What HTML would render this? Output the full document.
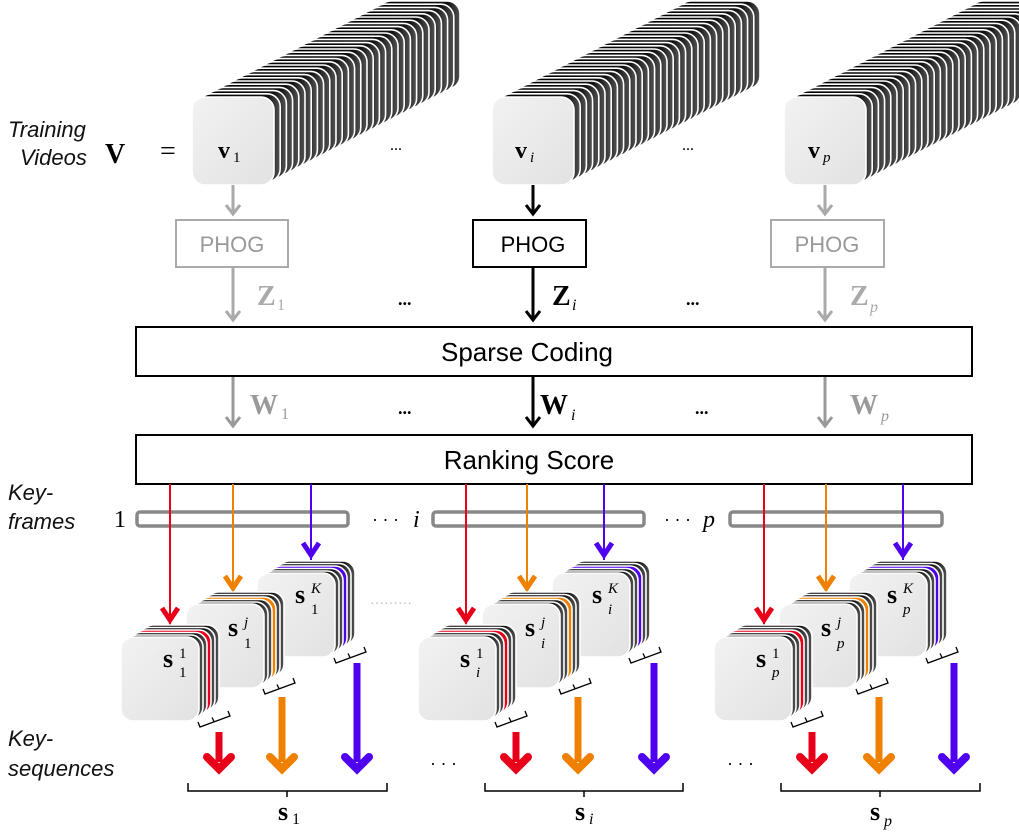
<!DOCTYPE html>
<html><head><meta charset="utf-8"><style>
body{margin:0;background:#fff}
svg{display:block}
.sans{font-family:"Liberation Sans",sans-serif}
.ser{font-family:"Liberation Serif",serif}
</style></head><body>
<svg width="1019" height="832" viewBox="0 0 1019 832" xmlns="http://www.w3.org/2000/svg">
<defs>
<linearGradient id="dk" x1="0" x2="1" y1="0" y2="0"><stop offset="0" stop-color="#000"/><stop offset="0.85" stop-color="#111"/><stop offset="1" stop-color="#555"/></linearGradient>
<linearGradient id="fr" x1="0" x2="1" y1="0" y2="1"><stop offset="0" stop-color="#f2f2f2"/><stop offset="1" stop-color="#e2e2e2"/></linearGradient>
<rect id="bs" width="82" height="88" rx="13" stroke="#fff" stroke-width="1.6"/>
<rect id="ss" width="78" height="84" rx="12" stroke="#fff" stroke-width="1.6"/>
<g id="big">
<use href="#bs" x="186" y="-96" fill="url(#dk)"/><use href="#bs" x="179.8" y="-92.8" fill="url(#dk)"/><use href="#bs" x="173.6" y="-89.6" fill="url(#dk)"/><use href="#bs" x="167.4" y="-86.4" fill="url(#dk)"/><use href="#bs" x="161.2" y="-83.2" fill="url(#dk)"/><use href="#bs" x="155" y="-80" fill="url(#dk)"/><use href="#bs" x="148.8" y="-76.8" fill="url(#dk)"/><use href="#bs" x="142.6" y="-73.6" fill="url(#dk)"/><use href="#bs" x="136.4" y="-70.4" fill="url(#dk)"/><use href="#bs" x="130.2" y="-67.2" fill="url(#dk)"/><use href="#bs" x="124" y="-64" fill="url(#dk)"/><use href="#bs" x="117.8" y="-60.8" fill="url(#dk)"/><use href="#bs" x="111.6" y="-57.6" fill="url(#dk)"/><use href="#bs" x="105.4" y="-54.4" fill="url(#dk)"/><use href="#bs" x="99.2" y="-51.2" fill="url(#dk)"/><use href="#bs" x="93" y="-48" fill="url(#dk)"/><use href="#bs" x="86.8" y="-44.8" fill="url(#dk)"/><use href="#bs" x="80.6" y="-41.6" fill="url(#dk)"/><use href="#bs" x="74.4" y="-38.4" fill="url(#dk)"/><use href="#bs" x="68.2" y="-35.2" fill="url(#dk)"/><use href="#bs" x="62" y="-32" fill="url(#dk)"/><use href="#bs" x="55.8" y="-28.8" fill="url(#dk)"/><use href="#bs" x="49.6" y="-25.6" fill="url(#dk)"/><use href="#bs" x="43.4" y="-22.4" fill="url(#dk)"/><use href="#bs" x="37.2" y="-19.2" fill="url(#dk)"/><use href="#bs" x="31" y="-16" fill="url(#dk)"/><use href="#bs" x="24.8" y="-12.8" fill="url(#dk)"/><use href="#bs" x="18.6" y="-9.6" fill="url(#dk)"/><use href="#bs" x="12.4" y="-6.4" fill="url(#dk)"/><use href="#bs" x="6.2" y="-3.2" fill="url(#dk)"/>
<use href="#bs" x="0" y="0" fill="url(#fr)"/>
</g>
<path id="brk" d="M77,85 l2,5 l30,-11 l-2,-5 M93,84.5 l-2,-4" fill="none" stroke="#000" stroke-width="1.3"/>
<g id="smR"><use href="#ss" x="20" y="-12" fill="url(#dk)"/><use href="#ss" x="16" y="-9.5" fill="url(#dk)"/><use href="#ss" x="12" y="-7" fill="#e8001a"/><use href="#ss" x="8" y="-4.5" fill="url(#dk)"/><use href="#ss" x="4" y="-2" fill="url(#dk)"/><use href="#ss" x="0" y="0" fill="url(#fr)"/><use href="#brk"/></g>
<g id="smO"><use href="#ss" x="20" y="-12" fill="url(#dk)"/><use href="#ss" x="16" y="-9.5" fill="url(#dk)"/><use href="#ss" x="12" y="-7" fill="#f08000"/><use href="#ss" x="8" y="-4.5" fill="url(#dk)"/><use href="#ss" x="4" y="-2" fill="url(#dk)"/><use href="#ss" x="0" y="0" fill="url(#fr)"/><use href="#brk"/></g>
<g id="smP"><use href="#ss" x="20" y="-12" fill="url(#dk)"/><use href="#ss" x="16" y="-9.5" fill="url(#dk)"/><use href="#ss" x="12" y="-7" fill="#5000f0"/><use href="#ss" x="8" y="-4.5" fill="url(#dk)"/><use href="#ss" x="4" y="-2" fill="url(#dk)"/><use href="#ss" x="0" y="0" fill="url(#fr)"/><use href="#brk"/></g>
</defs>

<g class="sans" font-style="italic" font-size="22" fill="#111">
<text x="8" y="137">Training</text><text x="20" y="165">Videos</text>
<text x="8" y="500">Key-</text><text x="8" y="529">frames</text>
<text x="8" y="746">Key-</text><text x="8" y="776">sequences</text>
</g>
<text x="105" y="163" class="ser" font-size="28" font-weight="bold">V</text>
<text x="160" y="160" class="ser" font-size="28">=</text>

<use href="#big" x="192" y="97"/>
<use href="#big" x="492" y="97"/>
<use href="#big" x="784" y="97"/>
<g class="ser" font-size="24">
<text x="218" y="158" font-weight="bold">v</text><text x="233" y="162" font-size="15">1</text>
<text x="515" y="158" font-weight="bold">v</text><text x="530" y="162" font-size="15" font-style="italic">i</text>
<text x="808" y="158" font-weight="bold">v</text><text x="823" y="162" font-size="15" font-style="italic">p</text>
</g>
<text x="390" y="150" class="ser" font-size="16">...</text>
<text x="682" y="150" class="ser" font-size="16">...</text>

<g fill="none" stroke-width="3">
<path d="M233,185 V214 M226,205 L233,214 L240,205" stroke="#aaa"/>
<path d="M533,185 V214 M526,205 L533,214 L540,205" stroke="#000"/>
<path d="M825,185 V214 M818,205 L825,214 L832,205" stroke="#aaa"/>
<path d="M233,268 V320 M226,311 L233,320 L240,311" stroke="#aaa"/>
<path d="M533,268 V320 M526,311 L533,320 L540,311" stroke="#000"/>
<path d="M825,268 V320 M818,311 L825,320 L832,311" stroke="#aaa"/>
<path d="M233,377 V426 M226,417 L233,426 L240,417" stroke="#999"/>
<path d="M533,377 V426 M526,417 L533,426 L540,417" stroke="#000"/>
<path d="M825,377 V426 M818,417 L825,426 L832,417" stroke="#999"/>
</g>
<rect x="176" y="220" width="112" height="47" fill="#fff" stroke="#aaa" stroke-width="2"/>
<rect x="473" y="220" width="113" height="47" fill="#fff" stroke="#000" stroke-width="2"/>
<rect x="771" y="220" width="113" height="47" fill="#fff" stroke="#aaa" stroke-width="2"/>
<g class="sans" font-size="22" text-anchor="middle">
<text x="232" y="252" fill="#999">PHOG</text>
<text x="533" y="252">PHOG</text>
<text x="827" y="252" fill="#999">PHOG</text>
</g>
<g class="ser" font-size="28" font-weight="bold">
<text x="257" y="305" fill="#aaa">Z</text><text x="277" y="310" font-size="16" font-weight="normal" fill="#aaa">1</text>
<text x="552" y="305">Z</text><text x="572" y="310" font-size="16" font-weight="normal" font-style="italic">i</text>
<text x="850" y="305" fill="#aaa">Z</text><text x="870" y="312" font-size="16" font-weight="normal" font-style="italic" fill="#aaa">p</text>
<text x="250" y="414" fill="#999">W</text><text x="281" y="419" font-size="16" font-weight="normal" fill="#999">1</text>
<text x="540" y="414">W</text><text x="571" y="420" font-size="16" font-weight="normal" font-style="italic">i</text>
<text x="850" y="414" fill="#999">W</text><text x="881" y="421" font-size="16" font-weight="normal" font-style="italic" fill="#999">p</text>
</g>
<g font-size="18" font-weight="bold" class="ser">
<text x="398" y="305">...</text><text x="686" y="305">...</text>
<text x="398" y="414">...</text><text x="695" y="414">...</text>
</g>
<rect x="136" y="327" width="836" height="49" fill="#fff" stroke="#000" stroke-width="2"/>
<text x="527" y="361" class="sans" font-size="26" text-anchor="middle">Sparse Coding</text>
<rect x="136" y="435" width="836" height="49" fill="#fff" stroke="#000" stroke-width="2"/>
<text x="529" y="469" class="sans" font-size="26" text-anchor="middle">Ranking Score</text>

<g fill="none" stroke="#888" stroke-width="3.5">
<rect x="137" y="512" width="211" height="14" rx="3"/>
<rect x="433" y="512" width="211" height="14" rx="3"/>
<rect x="730" y="512" width="212" height="14" rx="3"/>
</g>
<g class="ser" font-size="24" font-style="italic">
<text x="114" y="527" font-style="normal">1</text><text x="413" y="527">i</text><text x="703" y="527">p</text>
</g>
<text x="372" y="526" class="ser" font-size="18">· · ·</text>
<text x="664" y="526" class="ser" font-size="18">· · ·</text>
<text x="370" y="608" class="ser" font-size="14" fill="#bbb">·········</text>

<g fill="none" stroke-width="2">
<path d="M170,484 V625" stroke="#e8001a"/>
<path d="M233,484 V593" stroke="#f08000"/>
<path d="M311,484 V560" stroke="#5000f0"/>
<path d="M466,484 V625" stroke="#e8001a"/>
<path d="M527,484 V593" stroke="#f08000"/>
<path d="M604,484 V560" stroke="#5000f0"/>
<path d="M764,484 V625" stroke="#e8001a"/>
<path d="M826,484 V593" stroke="#f08000"/>
<path d="M903,484 V560" stroke="#5000f0"/>
</g>
<g fill="none" stroke-width="5">
<path d="M162,608 L170,620 L178,608" stroke="#e8001a"/><path d="M225,576 L233,588 L241,576" stroke="#f08000"/><path d="M303,543 L311,555 L319,543" stroke="#5000f0"/>
<path d="M458,608 L466,620 L474,608" stroke="#e8001a"/><path d="M519,576 L527,588 L535,576" stroke="#f08000"/><path d="M596,543 L604,555 L612,543" stroke="#5000f0"/>
<path d="M756,608 L764,620 L772,608" stroke="#e8001a"/><path d="M818,576 L826,588 L834,576" stroke="#f08000"/><path d="M895,543 L903,555 L911,543" stroke="#5000f0"/>
</g>

<use href="#smP" x="257" y="573"/><use href="#smO" x="186" y="604"/><use href="#smR" x="121" y="637"/>
<use href="#smP" x="552" y="573"/><use href="#smO" x="482" y="604"/><use href="#smR" x="418" y="637"/>
<use href="#smP" x="849" y="573"/><use href="#smO" x="779" y="604"/><use href="#smR" x="714" y="637"/>
<g class="ser" font-size="26" font-weight="bold">
<text x="163" y="667">s</text><text x="228" y="636">s</text><text x="295" y="603">s</text>
<text x="460" y="667">s</text><text x="525" y="636">s</text><text x="592" y="603">s</text>
<text x="756" y="667">s</text><text x="821" y="636">s</text><text x="887" y="603">s</text>
</g>
<g class="ser" font-size="15">
<text x="179" y="658">1</text><text x="179" y="677">1</text>
<text x="244" y="627" font-style="italic">j</text><text x="244" y="648">1</text>
<text x="311" y="593" font-style="italic">K</text><text x="311" y="614">1</text>
<text x="476" y="658">1</text><text x="476" y="677" font-style="italic">i</text>
<text x="541" y="627" font-style="italic">j</text><text x="541" y="648" font-style="italic">i</text>
<text x="608" y="593" font-style="italic">K</text><text x="608" y="614" font-style="italic">i</text>
<text x="772" y="658">1</text><text x="772" y="677" font-style="italic">p</text>
<text x="837" y="627" font-style="italic">j</text><text x="837" y="648" font-style="italic">p</text>
<text x="903" y="593" font-style="italic">K</text><text x="903" y="614" font-style="italic">p</text>
</g>

<g stroke-width="7">
<path d="M219,732 V762" stroke="#e8001a"/><path d="M282,697 V762" stroke="#f08000"/><path d="M357,663 V762" stroke="#5000f0"/>
<path d="M516,732 V762" stroke="#e8001a"/><path d="M578,697 V762" stroke="#f08000"/><path d="M654,663 V762" stroke="#5000f0"/>
<path d="M812,732 V762" stroke="#e8001a"/><path d="M879,697 V762" stroke="#f08000"/><path d="M954,663 V762" stroke="#5000f0"/>
</g>
<g fill="none" stroke-width="8" stroke-linecap="round">
<path d="M207,757 L219,769 L231,757" stroke="#e8001a"/><path d="M270,757 L282,769 L294,757" stroke="#f08000"/><path d="M345,757 L357,769 L369,757" stroke="#5000f0"/>
<path d="M504,757 L516,769 L528,757" stroke="#e8001a"/><path d="M566,757 L578,769 L590,757" stroke="#f08000"/><path d="M642,757 L654,769 L666,757" stroke="#5000f0"/>
<path d="M800,757 L812,769 L824,757" stroke="#e8001a"/><path d="M867,757 L879,769 L891,757" stroke="#f08000"/><path d="M942,757 L954,769 L966,757" stroke="#5000f0"/>
</g>
<text x="430" y="770" class="ser" font-size="18">· · ·</text>
<text x="727" y="770" class="ser" font-size="18">· · ·</text>

<g fill="none" stroke="#000" stroke-width="1.5">
<path d="M188,783 V791 H387 V783 M287,791 V797"/>
<path d="M485,783 V791 H683 V783 M584,791 V797"/>
<path d="M781,783 V791 H980 V783 M880,791 V797"/>
</g>
<g class="ser" font-size="26" font-weight="bold">
<text x="278" y="820">s</text><text x="292" y="824" font-size="16" font-weight="normal">1</text>
<text x="575" y="820">s</text><text x="589" y="824" font-size="16" font-weight="normal" font-style="italic">i</text>
<text x="870" y="820">s</text><text x="884" y="826" font-size="16" font-weight="normal" font-style="italic">p</text>
</g>
</svg>
</body></html>
